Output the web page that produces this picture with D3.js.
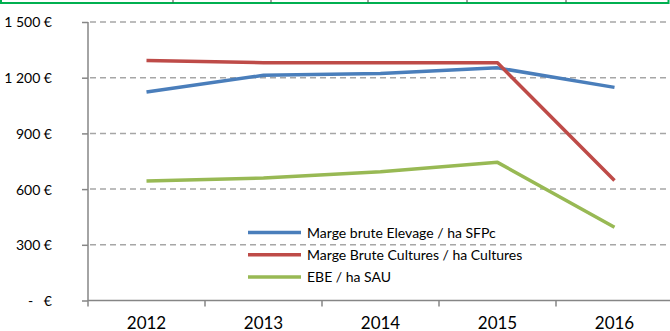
<!DOCTYPE html>
<html>
<head>
<meta charset="utf-8">
<script src="https://cdn.jsdelivr.net/npm/d3@7"></script>
<style>
  html, body { margin: 0; padding: 0; background: #fff; }
  svg { display: block; }
  text { font-family: Lato, "Open Sans", sans-serif; fill: #000; }
</style>
</head>
<body>
<svg id="chart" width="670" height="331"></svg>
<script>
// Résultats par hectare, 2012-2016
const years = ["2012", "2013", "2014", "2015", "2016"];
const margeElevage = [1123, 1213, 1222, 1253, 1148];
const margeCultures = [1293, 1281, 1281, 1280, 646];
const ebe = [644, 660, 694, 744, 395];
const seriesNames = [
  "Marge brute Elevage / ha SFPc",
  "Marge Brute Cultures / ha Cultures",
  "EBE / ha SAU"
];
const seriesColors = ["#4a7ebb", "#be4b48", "#98b954"];
const yTicks = [0, 300, 600, 900, 1200, 1500];

const series = [margeElevage, margeCultures, ebe].map((values, i) => ({
  name: seriesNames[i], color: seriesColors[i], values
}));

const svg = d3.select("#chart");
const W = 670;
const plot = { left: 88, right: 673, top: 22, bottom: 300.5 };

const x = d3.scaleBand().domain(years).range([plot.left, plot.right]);
const y = d3.scaleLinear().domain([0, 1500]).range([plot.bottom, plot.top]);

// Bordure du tableau au-dessus du graphique
const frame = svg.append("g");
frame.append("line").attr("x1", 0).attr("x2", 669).attr("y1", 3).attr("y2", 3)
  .attr("stroke", "#00b050").attr("stroke-width", 2);
frame.append("line").attr("x1", 1).attr("x2", 1).attr("y1", 0).attr("y2", 4)
  .attr("stroke", "#00b050").attr("stroke-width", 2);
frame.append("line").attr("x1", 668.5).attr("x2", 668.5).attr("y1", 0).attr("y2", 4)
  .attr("stroke", "#00b050").attr("stroke-width", 2);
[173, 271, 368, 467, 566].forEach(cx => {
  frame.append("line").attr("x1", cx).attr("x2", cx).attr("y1", 0).attr("y2", 2.5)
    .attr("stroke", "#404040").attr("stroke-width", 1);
});

// Quadrillage horizontal
svg.append("g").selectAll("line")
  .data(yTicks.filter(d => d > 0))
  .join("line")
  .attr("x1", plot.left + 2).attr("x2", W)
  .attr("y1", d => y(d)).attr("y2", d => y(d))
  .attr("stroke", "#a6a6a6").attr("stroke-width", 1.5)
  .attr("stroke-dasharray", "6,4");

// Axe vertical
const yAxis = svg.append("g")
  .attr("transform", `translate(${plot.left},0)`)
  .call(d3.axisLeft(y).tickValues(yTicks).tickSize(6).tickPadding(30)
    .tickFormat(d => d === 0 ? "-   €" : d3.format(",")(d).replace(/,/g, " ") + " €"));
yAxis.select(".domain").remove();
yAxis.append("line").attr("x1", 0).attr("x2", 0)
  .attr("y1", plot.top).attr("y2", plot.bottom + 6)
  .attr("stroke", "#868686").attr("stroke-width", 1.5);
yAxis.selectAll(".tick line").attr("stroke", "#868686").attr("stroke-width", 1.5);
yAxis.selectAll(".tick text")
  .attr("font-size", 14).attr("dy", "0.35em")
  .style("white-space", "pre").attr("xml:space", "preserve");

// Axe horizontal
const xAxis = svg.append("g").attr("transform", `translate(0,${plot.bottom})`);
xAxis.append("line").attr("x1", plot.left).attr("x2", W)
  .attr("y1", 0).attr("y2", 0)
  .attr("stroke", "#868686").attr("stroke-width", 1.5);
xAxis.selectAll("line.tk")
  .data(years.slice(1))
  .join("line").attr("class", "tk")
  .attr("x1", d => x(d)).attr("x2", d => x(d))
  .attr("y1", 0).attr("y2", 6)
  .attr("stroke", "#868686").attr("stroke-width", 1.5);
xAxis.selectAll("text")
  .data(years)
  .join("text")
  .attr("x", d => x(d) + x.bandwidth() / 2)
  .attr("y", 28)
  .attr("text-anchor", "middle")
  .attr("font-size", 17)
  .text(d => d);

// Courbes
const line = d3.line()
  .x((d, i) => x(years[i]) + x.bandwidth() / 2)
  .y(d => y(d));

svg.append("g").selectAll("path")
  .data(series)
  .join("path")
  .attr("d", d => line(d.values))
  .attr("fill", "none")
  .attr("stroke", d => d.color)
  .attr("stroke-width", 3.5)
  .attr("stroke-linejoin", "round");

// Légende
const legend = svg.append("g").selectAll("g")
  .data(series)
  .join("g")
  .attr("transform", (d, i) => `translate(248,${232.5 + i * 22.2})`);
legend.append("line")
  .attr("x1", 0).attr("x2", 53).attr("y1", 0).attr("y2", 0)
  .attr("stroke", d => d.color).attr("stroke-width", 3.5);
legend.append("text")
  .attr("x", 59).attr("y", 0).attr("dy", "0.36em")
  .attr("font-size", 14)
  .text(d => d.name);
</script>
</body>
</html>
